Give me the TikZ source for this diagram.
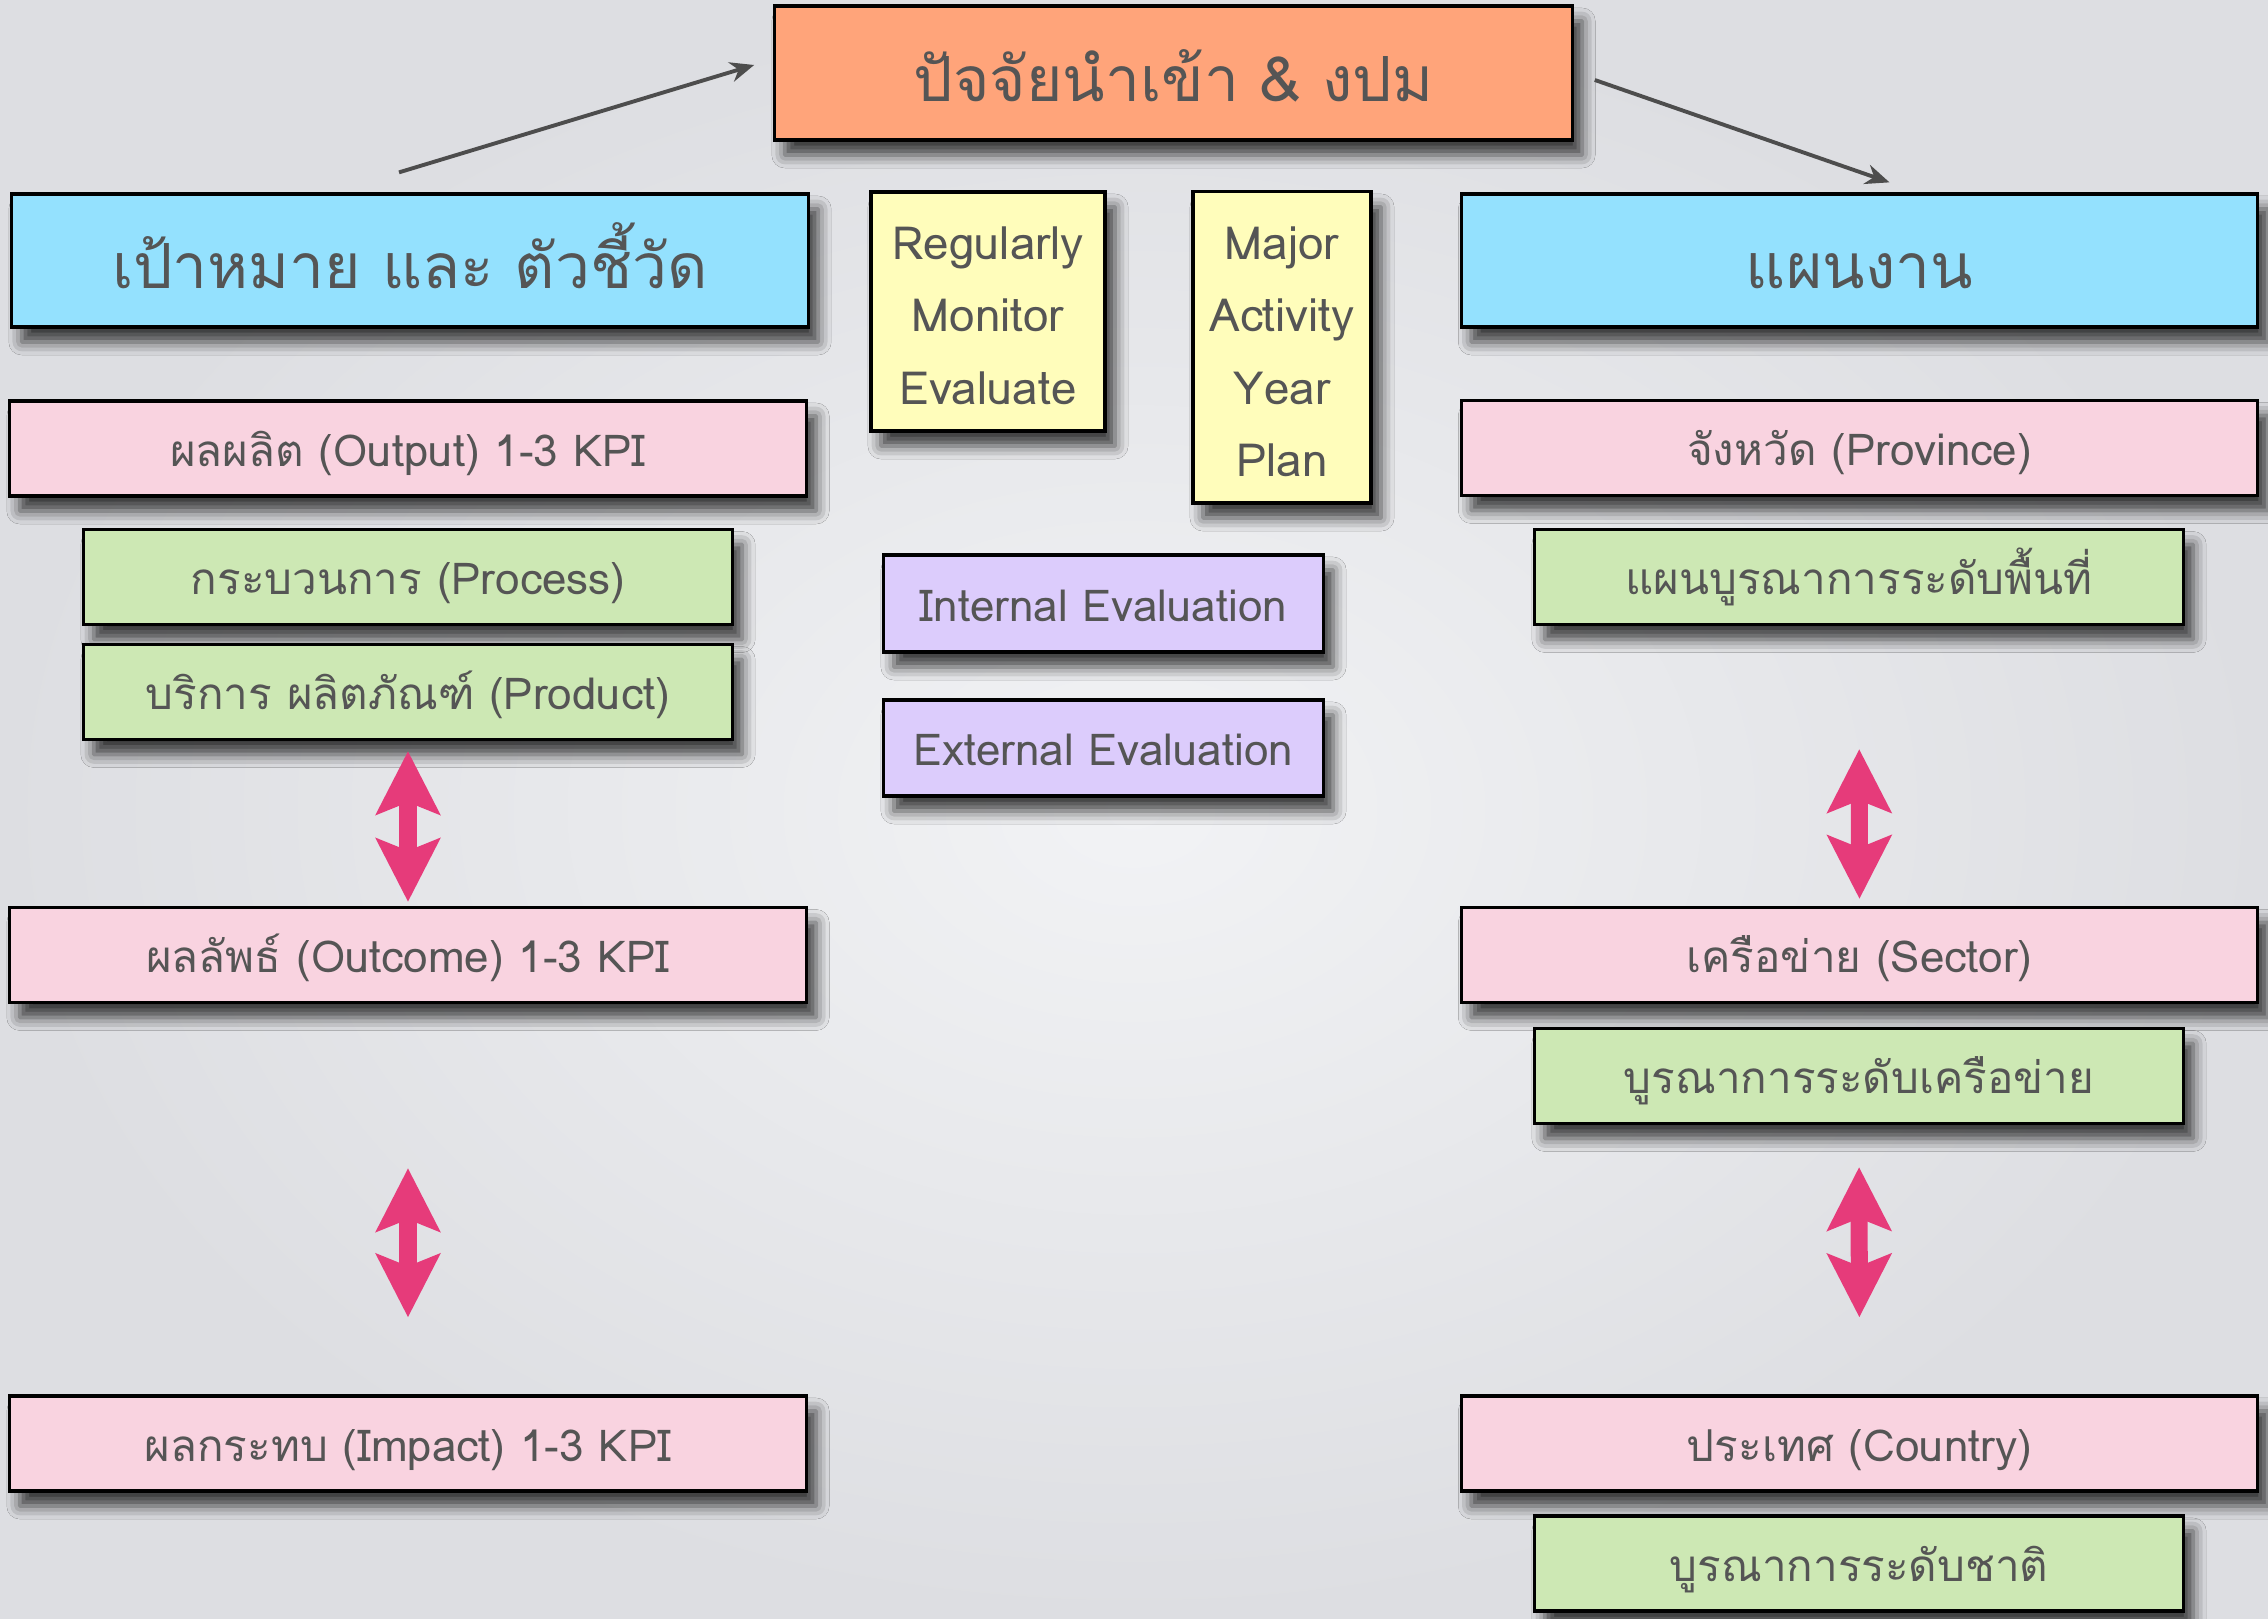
\documentclass[tikz,border=0pt]{standalone}
\usepackage{fontspec}
\setmainfont[Script=Thai]{Loma}
\usetikzlibrary{arrows.meta,shadows.blur,calc}
\definecolor{bgin}{RGB}{242,243,245}
\definecolor{bgout}{RGB}{221,222,226}
\definecolor{txt}{RGB}{85,85,85}
\definecolor{orangebox}{RGB}{255,164,122}
\definecolor{bluebox}{RGB}{148,225,254}
\definecolor{pinkbox}{RGB}{249,211,224}
\definecolor{greenbox}{RGB}{205,232,180}
\definecolor{yellowbox}{RGB}{255,253,187}
\definecolor{purplebox}{RGB}{220,204,252}
\definecolor{dblpink}{RGB}{230,59,122}
\definecolor{arrgray}{RGB}{77,77,77}
\newcommand{\stacklines}[1]{\begin{tabular}{@{}c@{}}\rule{0pt}{17.8pt}#1\end{tabular}}
\begin{document}
\begin{tikzpicture}[x=0.01cm,y=-0.01cm,
  box/.style={draw=black, line width=0.9pt, text=txt, align=center, inner sep=0pt,
    blur shadow={shadow xshift=0.1cm, shadow yshift=-0.15cm, shadow blur radius=0.13cm, shadow opacity=75}},
  big/.style={box, font=\fontsize{17.7}{22}\selectfont, text height=16.2pt, text depth=0pt},
  small/.style={box, font=\fontsize{12.5}{15}\selectfont, text height=10pt, text depth=0pt},
  stack/.style={box, font=\fontsize{13}{20.5}\selectfont},
  widebox/.style={minimum width=7.96cm},
  midbox/.style={minimum width=6.48cm},
  rowbox/.style={minimum height=0.95cm},
  dbl/.style={draw=dblpink, line width=0.17cm,
    {Stealth[length=0.63cm, width=0.63cm, inset=0.12cm]}-{Stealth[length=0.63cm, width=0.63cm, inset=0.12cm]}},
  thin/.style={draw=arrgray, line width=1.1pt, -{Stealth[length=0.24cm, width=0.2cm]}}
]
\useasboundingbox (0,0) rectangle (2268,1619);
\shade[inner color=bgin, outer color=bgout] (0,0) rectangle (2268,1619);

% top
\node[big, fill=orangebox, minimum width=7.97cm, minimum height=1.34cm] (top) at (1173.5,73) {ปัจจัยนำเข้า \& งปม};

% headers
\node[big, fill=bluebox, widebox, minimum height=1.33cm] (lblue) at (410,260.5) {เป้าหมาย และ ตัวชี้วัด};
\node[big, fill=bluebox, widebox, minimum height=1.33cm] (rblue) at (1859.5,260.5) {แผนงาน};

% middle column
\node[stack, fill=yellowbox, minimum width=2.34cm, minimum height=2.39cm] (yel1) at (988,311.5) {\stacklines{Regularly\\Monitor\\Evaluate}};
\node[stack, fill=yellowbox, minimum width=1.78cm, minimum height=3.11cm] (yel2) at (1282,347.5) {\stacklines{Major\\Activity\\Year\\Plan}};
\node[small, fill=purplebox, minimum width=4.39cm, minimum height=0.97cm] (pu1) at (1103.5,603.5) {Internal Evaluation};
\node[small, fill=purplebox, minimum width=4.39cm, minimum height=0.96cm] (pu2) at (1103.5,748) {External Evaluation};

% left column
\node[small, fill=pinkbox, widebox, rowbox] (lp1) at (408,448.5) {ผลผลิต (Output) 1-3 KPI};
\node[small, fill=greenbox, midbox, rowbox] (lg1) at (408,577) {กระบวนการ (Process)};
\node[small, fill=greenbox, midbox, rowbox] (lg2) at (408,692) {บริการ ผลิตภัณฑ์ (Product)};
\node[small, fill=pinkbox, widebox, rowbox] (lp2) at (408,955) {ผลลัพธ์ (Outcome) 1-3 KPI};
\node[small, fill=pinkbox, widebox, rowbox] (lp3) at (408,1443.5) {ผลกระทบ (Impact) 1-3 KPI};

% right column
\node[small, fill=pinkbox, widebox, rowbox] (rp1) at (1859.5,448) {จังหวัด (Province)};
\node[small, fill=greenbox, midbox, rowbox] (rg1) at (1859,577) {แผนบูรณาการระดับพื้นที่};
\node[small, fill=pinkbox, widebox, rowbox] (rp2) at (1859.5,955) {เครือข่าย (Sector)};
\node[small, fill=greenbox, midbox, rowbox] (rg2) at (1859,1076) {บูรณาการระดับเครือข่าย};
\node[small, fill=pinkbox, widebox, rowbox] (rp3) at (1859.5,1443.5) {ประเทศ (Country)};
\node[small, fill=greenbox, midbox, rowbox] (rg3) at (1859,1563.5) {บูรณาการระดับชาติ};

% top connectors
\coordinate (la) at ($(lblue.north)+(-11,-20)$);
\coordinate (lb) at ($(top.west)+(-19,-8)$);
\coordinate (ra) at ($(top.east)+(21,7)$);
\coordinate (rb) at ($(rblue.north)+(30,-10)$);
\draw[thin] (la) -- (lb);
\draw[thin] (ra) -- (rb);

% double arrows
\draw[dbl, shorten <=0.1cm, shorten >=0.04cm] (lg2.south) -- (lp2.north);
\draw[dbl, shorten <=1.64cm, shorten >=0.77cm] (lp2.south) -- (lp3.north);
\draw[dbl, shorten <=1.23cm, shorten >=0.07cm] (rg1.south) -- (rp2.north);
\draw[dbl, shorten <=0.42cm, shorten >=0.77cm] (rg2.south) -- (rp3.north);
\end{tikzpicture}
\end{document}
